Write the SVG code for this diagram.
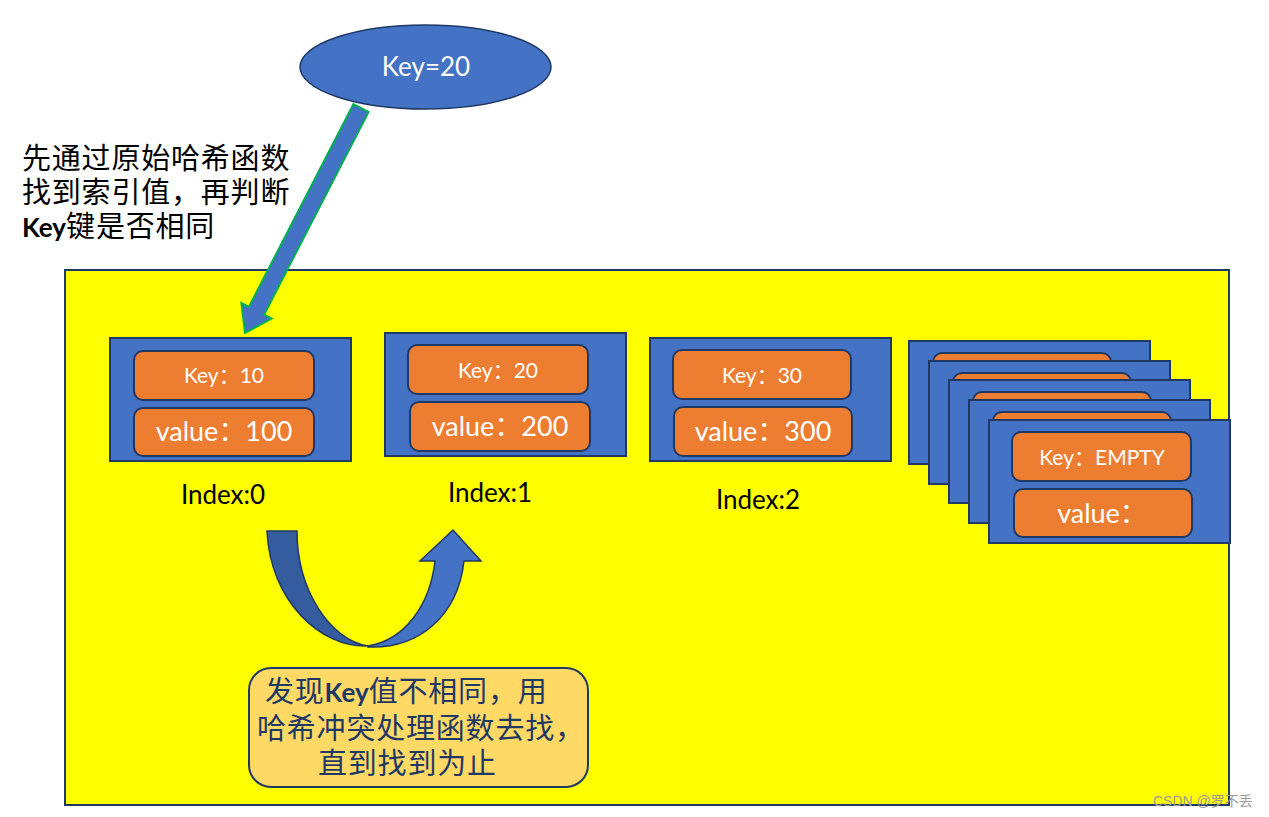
<svg xmlns="http://www.w3.org/2000/svg" width="1269" height="817" viewBox="0 0 1269 817">
<style>
.bg{fill:#FFFF00;stroke:#1F3864;stroke-width:2}
.box{fill:#4472C4;stroke:#1F3864;stroke-width:2}
.pill{fill:#ED7D31;stroke:#1F3864;stroke-width:2}
.lat{font-family:Lato,"Noto Sans CJK SC",sans-serif}
.kt{font-size:21px;fill:#FFFFFF;text-anchor:middle}
.vt{font-size:27px;fill:#FFFFFF;text-anchor:middle}
.idx{font-size:26px;fill:#000000;text-anchor:middle}
.cjk{font-family:"Noto Sans CJK SC",sans-serif;font-size:29px;letter-spacing:0.8px}
.kb{font-family:Lato,sans-serif;font-weight:bold;font-size:26px;letter-spacing:0}
.note{fill:#1F3864}
</style>
<rect class="bg" x="65" y="270" width="1164" height="535"/>

<g id="key20">
<ellipse cx="425.5" cy="67" rx="125.5" ry="42" fill="#4472C4" stroke="#1F3864" stroke-width="1.5"/>
<text class="lat" x="426" y="76" font-size="26" fill="#FFFFFF" text-anchor="middle">Key=20</text>
</g>

<g id="desc">
<text class="cjk" fill="#000"><tspan x="22" y="169">先通过原始哈希函数</tspan><tspan x="22" y="203">找到索引值，再判断</tspan><tspan x="22" y="237"><tspan class="kb">Key</tspan>键是否相同</tspan></text>
</g>

<g id="slot0" transform="translate(110,338)">
<rect class="box" width="241" height="123"/>
<rect class="pill" x="24" y="13" width="180" height="49" rx="9"/>
<rect class="pill" x="24" y="70" width="180" height="48" rx="9"/>
<text class="lat kt" x="114" y="45">Key：10</text>
<text class="lat vt" x="114" y="103">value：100</text>
</g>
<text class="lat idx" x="223" y="504">Index:0</text>

<g id="slot1" transform="translate(385,333)">
<rect class="box" width="241" height="123"/>
<rect class="pill" x="23" y="12" width="180" height="49" rx="9"/>
<rect class="pill" x="25" y="69" width="180" height="49" rx="9"/>
<text class="lat kt" x="113" y="45">Key：20</text>
<text class="lat vt" x="115" y="103">value：200</text>
</g>
<text class="lat idx" x="490" y="502">Index:1</text>

<g id="slot2" transform="translate(650,338)">
<rect class="box" width="241" height="123"/>
<rect class="pill" x="23" y="12" width="178" height="49" rx="9"/>
<rect class="pill" x="24" y="69" width="178" height="49" rx="9"/>
<text class="lat kt" x="112" y="45">Key：30</text>
<text class="lat vt" x="113" y="103">value：300</text>
</g>
<text class="lat idx" x="758" y="509">Index:2</text>

<g id="stack">
<g transform="translate(909,341)">
<rect class="box" width="241" height="123"/>
<rect class="pill" x="24" y="12" width="178" height="49" rx="9"/>
</g>
<g transform="translate(929,361)">
<rect class="box" width="241" height="123"/>
<rect class="pill" x="24" y="12" width="178" height="49" rx="9"/>
</g>
<g transform="translate(949,380)">
<rect class="box" width="241" height="123"/>
<rect class="pill" x="24" y="12" width="178" height="49" rx="9"/>
</g>
<g transform="translate(969,400)">
<rect class="box" width="241" height="123"/>
<rect class="pill" x="24" y="12" width="178" height="49" rx="9"/>
</g>
<g id="slotEmpty" transform="translate(989,420)">
<rect class="box" width="241" height="123"/>
<rect class="pill" x="23" y="12" width="179" height="49" rx="9"/>
<rect class="pill" x="25" y="69" width="178" height="48" rx="9"/>
<text class="lat kt" x="113" y="45">Key：EMPTY</text>
<text class="lat vt" x="113" y="103">value：</text>
</g>
</g>

<g id="connectors">
<polygon points="353.4,104.1 368.6,111.9 264.1,314.7 271.6,318.6 245,333 241.4,303 248.9,306.9" fill="#4472C4" stroke="#00B050" stroke-width="2" stroke-linejoin="miter"/>
<path d="M267,531 L297,531 C297,590 330,640 368,646 C320,648 270,600 267,531 Z" fill="#355C9E" stroke="#1F3864" stroke-width="1.5"/>
<path d="M368,646 C405,640 430,605 435,561 L420,561 L453,530 L481,561 L464,561 C458,615 420,649 368,647 Z" fill="#4472C4" stroke="#1F3864" stroke-width="1.5"/>
</g>

<g id="note">
<rect x="249" y="668" width="339" height="119" rx="22" fill="#FFD966" stroke="#1F3864" stroke-width="2"/>
<text class="cjk note"><tspan x="265" y="702">发现<tspan class="kb">Key</tspan>值不相同，用</tspan><tspan x="257" y="739">哈希冲突处理函数去找，</tspan><tspan x="318" y="774">直到找到为止</tspan></text>
</g>

<text x="1153" y="806" font-family="'Liberation Sans','Noto Sans CJK SC',sans-serif" font-size="14" fill="#9A9A9A">CSDN @罗不丢</text>
</svg>
